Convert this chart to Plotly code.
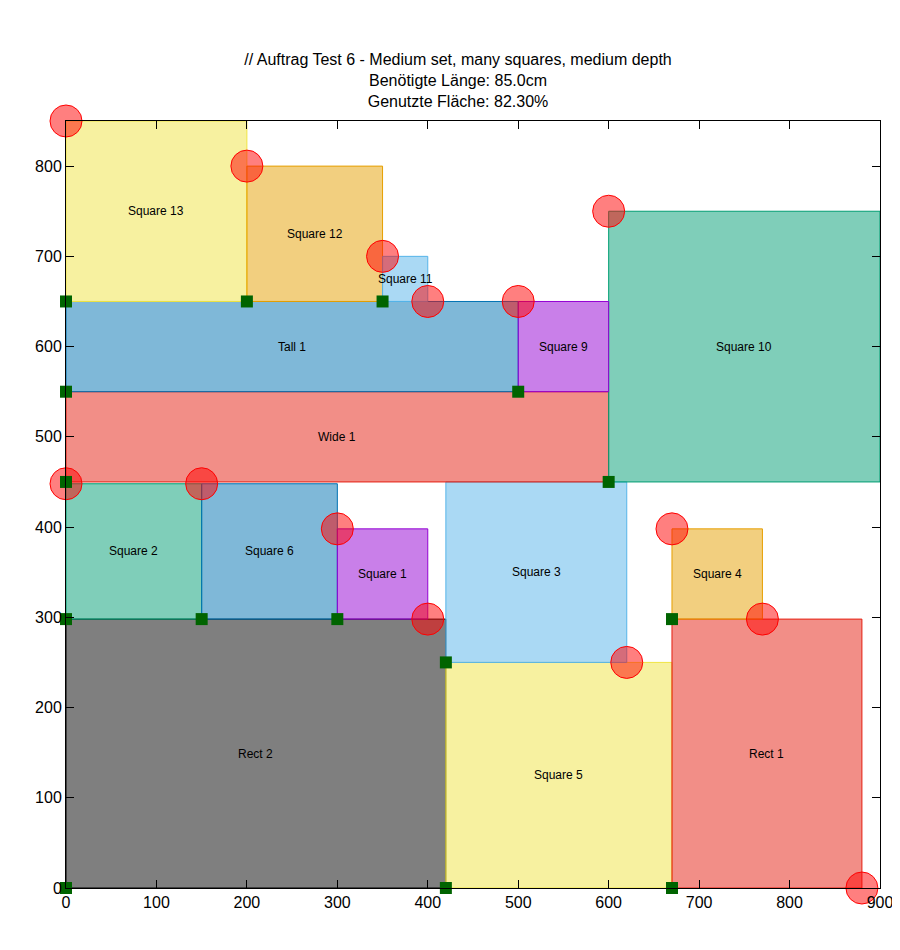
import plotly.graph_objects as go

# rectangles: name, x0, y0, x1, y1, colour
names = ["Rect 2", "Square 5", "Rect 1", "Square 2", "Square 6", "Square 1", "Square 3",
         "Square 4", "Wide 1", "Square 10", "Tall 1", "Square 9", "Square 13", "Square 12", "Square 11"]
x0s = [0, 420, 670, 0, 150, 300, 420, 670, 0, 600, 0, 500, 0, 200, 350]
y0s = [0, 0, 0, 298, 298, 298, 250, 298, 450, 450, 550, 550, 650, 650, 650]
x1s = [420, 670, 880, 150, 300, 400, 620, 770, 600, 900, 500, 600, 200, 350, 400]
y1s = [298, 250, 298, 448, 448, 398, 450, 398, 550, 750, 650, 650, 850, 800, 700]
colors = ["#000000", "#f0e442", "#e51e10", "#009e73", "#0072b2", "#9400d3", "#56b4e9",
          "#e69f00", "#e51e10", "#009e73", "#0072b2", "#9400d3", "#f0e442", "#e69f00", "#56b4e9"]
label_y = [148, 125, 148, 373, 373, 348, 350, 348, 500, 600, 600, 600, 750, 725, 675]

green_x = [0, 420, 670, 0, 150, 300, 420, 670, 0, 600, 0, 500, 0, 200, 350]
green_y = [0, 0, 0, 298, 298, 298, 250, 298, 450, 450, 550, 550, 650, 650, 650]
red_x = [0, 200, 350, 400, 500, 600, 0, 150, 300, 400, 620, 670, 770, 880]
red_y = [850, 800, 700, 650, 650, 750, 448, 448, 398, 298, 250, 398, 298, 0]

fig = go.Figure()

for n, a, b, c, d, col, ly in zip(names, x0s, y0s, x1s, y1s, colors, label_y):
    fig.add_shape(type="rect", x0=a, y0=b, x1=c, y1=d, fillcolor=col, opacity=0.5,
                  line=dict(width=0), layer="below")
    fig.add_shape(type="rect", x0=a, y0=b, x1=c, y1=d, line=dict(color=col, width=1),
                  layer="below")
    fig.add_annotation(x=(a + c) / 2, y=ly, text=n, showarrow=False,
                       font=dict(size=12, color="black"))

fig.add_trace(go.Scatter(x=red_x, y=red_y, mode="markers", cliponaxis=False,
                         marker=dict(size=32, color="rgba(255,0,0,0.5)",
                                     line=dict(color="red", width=1))))
fig.add_trace(go.Scatter(x=green_x, y=green_y, mode="markers", cliponaxis=False,
                         marker=dict(size=12, symbol="square", color="#006400")))

fig.update_layout(
    width=900, height=950, showlegend=False,
    paper_bgcolor="white", plot_bgcolor="white",
    font=dict(family="Liberation Sans, Arial", size=16, color="black"),
    margin=dict(l=58, r=28, t=113, b=70),
    title=dict(text="// Auftrag Test 6 - Medium set, many squares, medium depth<br>"
                    "Benötigte Länge: 85.0cm<br>Genutzte Fläche: 82.30%",
               x=0.5, xanchor="center", y=0.94, yanchor="middle",
               font=dict(size=16)),
)
axis = dict(showgrid=False, zeroline=False, showline=True, linecolor="black", mirror="ticks",
            ticks="inside", ticklen=8, tickcolor="black", dtick=100)
fig.update_xaxes(range=[0, 900], tick0=0, **axis)
fig.update_yaxes(range=[0, 850], tick0=0, **axis)

fig.write_html("out.html")
